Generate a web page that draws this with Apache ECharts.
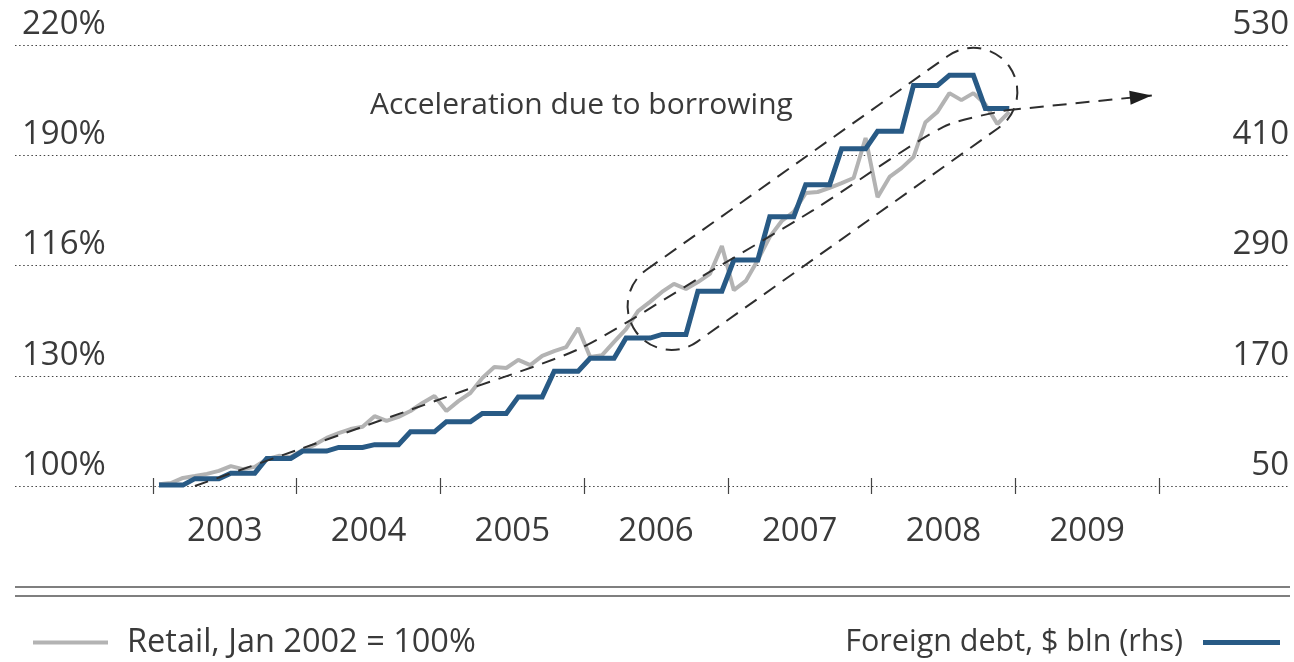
<!DOCTYPE html>
<html>
<head>
<meta charset="utf-8">
<script src="https://cdn.jsdelivr.net/npm/echarts@6/dist/echarts.min.js"></script>
<style>
  html, body { margin: 0; padding: 0; background: #fff; }
  #chart { width: 1294px; height: 662px; }
</style>
</head>
<body>
<div id="chart"></div>
<script>
// x axis: months counted from Jan 2003, one label per year
var years = ['2003', '2004', '2005', '2006', '2007', '2008', '2009'];

// tick labels, as printed on the original
var leftLabels = ['100%', '130%', '116%', '190%', '220%'];
var rightLabels = ['50', '170', '290', '410', '530'];

// Retail, Jan 2002 = 100%, monthly Jan 2003 .. Dec 2008
var retail = [
  100.5, 100.8, 102.2, 102.7, 103.3, 104.1, 105.4, 104.6, 105.2, 107.3, 108.2, 107.9,
  109.8, 111.2, 113.1, 114.4, 115.5, 116.1, 119.0, 117.7, 118.8, 120.4, 122.6, 124.5,
  120.4, 123.1, 125.3, 129.4, 132.4, 132.1, 134.3, 132.9, 135.4, 136.7, 137.8, 143.0,
  135.1, 135.6, 139.2, 142.7, 147.6, 150.1, 152.8, 155.0, 153.6, 155.5, 157.7, 165.3,
  153.3, 155.8, 161.5, 167.8, 172.1, 174.6, 179.7, 180.0, 181.1, 182.4, 183.8, 194.7,
  178.6, 184.1, 186.5, 189.5, 199.0, 201.8, 206.9, 205.0, 206.9, 203.9, 198.5, 201.8
];

// Foreign debt, $ bln (quarterly figure shown for each month)
var foreignDebt = [
  51, 51, 51, 58, 58, 58, 64, 64, 64, 80, 80, 80,
  88, 88, 88, 92, 92, 92, 95, 95, 95, 109, 109, 109,
  120, 120, 120, 129, 129, 129, 147, 147, 147, 175, 175, 175,
  189, 189, 189, 211, 211, 211, 215, 215, 215, 262, 262, 262,
  296, 296, 296, 343, 343, 343, 378, 378, 378, 417, 417, 417,
  436, 436, 436, 486, 486, 486, 497, 497, 497, 461, 461, 461
];

// dashed trend (month, $ bln) and its arrow
var trendPts = [[3.5, 50], [12.0, 89], [25.6, 152], [35.7, 200], [45.7, 277], [55.1, 350], [66.0, 441], [71.3, 459]];
var trendArrow = [[71.3, 459], [83.4, 475]];
// dashed capsule around 2006-2008, its two end centres (month, $ bln)
var capsule = [[43.3, 246], [68.5, 479]];

var ink = '#3a3a3a';
var fontFam = '"Open Sans", "Noto Sans", sans-serif';
var dash = [14, 9];

function monthly(arr) {
  return arr.map(function (v, i) { return [i + 0.5, v]; });
}

var chart = echarts.init(document.getElementById('chart'));

var option = {
  animation: false,
  textStyle: { fontFamily: fontFam, color: ink },
  grid: [
    { left: 15, right: 4, top: 45, bottom: 176 },
    { left: 153, right: 135, top: 45, bottom: 176 }
  ],
  xAxis: [
    { gridIndex: 0, type: 'value', min: 0, max: 1, show: false },
    {
      gridIndex: 1, type: 'value', min: 0, max: 84, interval: 12, position: 'bottom',
      axisLine: { show: false },
      axisTick: { show: true, inside: true, length: 8, lineStyle: { color: '#444', width: 1.2 } },
      axisLabel: { show: false },
      splitLine: { show: false }
    },
    {
      gridIndex: 1, type: 'value', min: 0, max: 84, interval: 12, position: 'bottom',
      axisLine: { show: false },
      axisTick: { show: true, inside: false, length: 8, lineStyle: { color: '#444', width: 1.2 } },
      axisLabel: { show: false },
      splitLine: { show: false }
    },
    {
      gridIndex: 1, type: 'value', min: 0, max: 84, interval: 6, position: 'bottom',
      axisLine: { show: false },
      axisTick: { show: false },
      splitLine: { show: false },
      axisLabel: {
        margin: 29, fontSize: 33, color: ink, fontFamily: fontFam,
        formatter: function (v) {
          return v % 12 === 6 ? years[(v - 6) / 12] : '';
        }
      }
    }
  ],
  yAxis: [
    {
      gridIndex: 0, type: 'value', position: 'left', min: 100, max: 220, interval: 30,
      axisLine: { show: false }, axisTick: { show: false },
      splitLine: { show: true, lineStyle: { color: '#444', width: 1.2, type: [1.5, 2.6] } },
      axisLabel: {
        inside: true, margin: 7, fontSize: 33, color: ink, fontFamily: fontFam,
        verticalAlign: 'bottom', padding: [0, 0, 4, 0],
        formatter: function (v) { return leftLabels[Math.round((v - 100) / 30)]; }
      }
    },
    {
      gridIndex: 0, type: 'value', position: 'right', min: 50, max: 530, interval: 120,
      axisLine: { show: false }, axisTick: { show: false }, splitLine: { show: false },
      axisLabel: {
        inside: true, margin: 1, fontSize: 33, color: ink, fontFamily: fontFam,
        verticalAlign: 'bottom', padding: [0, 0, 4, 0],
        formatter: function (v) { return rightLabels[Math.round((v - 50) / 120)]; }
      }
    },
    { gridIndex: 1, type: 'value', min: 100, max: 220, interval: 30, show: false, splitLine: { show: false } },
    { gridIndex: 1, type: 'value', min: 50, max: 530, interval: 120, show: false, splitLine: { show: false } }
  ],
  legend: [
    {
      left: 28, top: 621, icon: 'rect', itemWidth: 75, itemHeight: 4,
      textStyle: { fontSize: 32.5, color: ink, fontFamily: fontFam, padding: [0, 0, 0, 14] },
      data: ['Retail, Jan 2002 = 100%'], selectedMode: false
    },
    {
      right: 9, top: 622, align: 'right', icon: 'rect', itemWidth: 77, itemHeight: 5,
      textStyle: { fontSize: 30.5, color: ink, fontFamily: fontFam, padding: [0, 15, 0, 0] },
      data: ['Foreign debt, $ bln (rhs)'], selectedMode: false
    }
  ],
  series: [
    {
      name: 'Retail, Jan 2002 = 100%', type: 'line', xAxisIndex: 1, yAxisIndex: 2,
      data: monthly(retail), showSymbol: false, symbol: 'none',
      lineStyle: { color: '#b3b3b3', width: 4 }, itemStyle: { color: '#b3b3b3' },
      z: 2
    },
    {
      name: 'Foreign debt, $ bln (rhs)', type: 'line', xAxisIndex: 1, yAxisIndex: 3,
      data: monthly(foreignDebt), showSymbol: false, symbol: 'none',
      lineStyle: { color: '#285a85', width: 5, join: 'miter' }, itemStyle: { color: '#285a85' },
      z: 3
    },
    {
      name: 'trend', type: 'line', xAxisIndex: 1, yAxisIndex: 3,
      data: trendPts, showSymbol: false, symbol: 'none', smooth: 0.25, clip: false,
      lineStyle: { color: '#2e2e2e', width: 2, type: dash },
      silent: true, z: 4,
      markLine: {
        silent: true, animation: false,
        symbol: ['none', 'none'],
        label: { show: false },
        lineStyle: { color: '#2e2e2e', width: 2, type: dash },
        emphasis: { disabled: true },
        data: [[{ coord: trendArrow[0] }, { coord: trendArrow[1] }]]
      }
    }
  ],
  graphic: [
    {
      type: 'text', left: 370, top: 90,
      style: { text: 'Acceleration due to borrowing', fontSize: 30, fontFamily: fontFam, fill: ink }
    },
    { type: 'line', shape: { x1: 15, y1: 587, x2: 1290, y2: 587 }, style: { stroke: '#555', lineWidth: 1.6 } },
    { type: 'line', shape: { x1: 15, y1: 596, x2: 1290, y2: 596 }, style: { stroke: '#555', lineWidth: 1.6 } }
  ]
};

chart.setOption(option);

// capsule annotation placed from its data-space end centres
var p1 = chart.convertToPixel({ seriesIndex: 1 }, capsule[0]);
var p2 = chart.convertToPixel({ seriesIndex: 1 }, capsule[1]);
var rad = 44;
var len = Math.sqrt(Math.pow(p2[0] - p1[0], 2) + Math.pow(p2[1] - p1[1], 2)) + 2 * rad;
var ang = Math.atan2(p1[1] - p2[1], p2[0] - p1[0]);
option.graphic.push({
  type: 'rect',
  x: (p1[0] + p2[0]) / 2, y: (p1[1] + p2[1]) / 2, rotation: ang,
  shape: { x: -len / 2, y: -rad, width: len, height: 2 * rad, r: rad },
  style: { fill: 'none', stroke: '#2e2e2e', lineWidth: 2, lineDash: dash },
  z: 10
});

// arrow head at the end of the trend
var a0 = chart.convertToPixel({ seriesIndex: 2 }, trendArrow[0]);
var a1 = chart.convertToPixel({ seriesIndex: 2 }, trendArrow[1]);
var dx = a1[0] - a0[0], dy = a1[1] - a0[1];
var dl = Math.sqrt(dx * dx + dy * dy);
var ux = dx / dl, uy = dy / dl;
var bx = a1[0] - ux * 22, by = a1[1] - uy * 22;
option.graphic.push({
  type: 'polygon',
  shape: { points: [a1, [bx - uy * 7, by + ux * 7], [bx + uy * 7, by - ux * 7]] },
  style: { fill: '#1e1e1e' },
  z: 11
});
chart.setOption({ graphic: option.graphic });
</script>
</body>
</html>
